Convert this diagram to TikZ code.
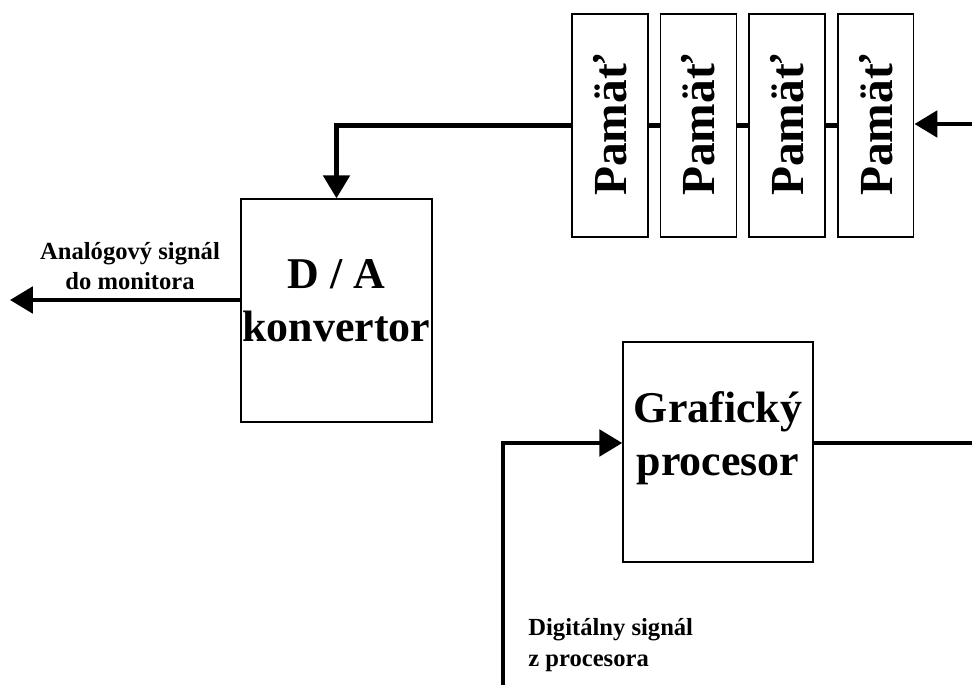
\documentclass[tikz,border=0pt]{standalone}
\usepackage{fontspec}
\setmainfont{Liberation Serif}
\usetikzlibrary{positioning,arrows.meta}
\tikzset{
  blok/.style={draw, line width=0.9pt, minimum width=3.82cm, minimum height=4.46cm, inner xsep=1pt, align=center, font=\bfseries\fontsize{25}{30}\selectfont},
  pamat/.style={draw, line width=0.9pt, minimum width=1.52cm, minimum height=4.46cm, inner sep=0pt, font=\bfseries\fontsize{27}{30}\selectfont},
  popis/.style={inner sep=0pt, font=\bfseries\fontsize{14}{17.5}\selectfont},
  vodic/.style={line width=2.3pt},
  sipka/.style={vodic, -{Triangle[length=13pt,width=15pt]}},
}
\begin{document}
\begin{tikzpicture}[x=0.02cm, y=-0.02cm]
    \useasboundingbox (0,0) rectangle (972,685);
    \node[pamat] (p1) at (610,125.5) {\rotatebox{90}{Pamäť}};
    \node[pamat, right=0.22cm of p1] (p2) {\rotatebox{90}{Pamäť}};
    \node[pamat, right=0.22cm of p2] (p3) {\rotatebox{90}{Pamäť}};
    \node[pamat, right=0.22cm of p3] (p4) {\rotatebox{90}{Pamäť}};
    \node[blok, text depth=0.4cm] (da) at (336.5,310.5) {D / A\\konvertor};
    \node[blok, minimum width=3.8cm, minimum height=4.4cm, text depth=0.75cm] (gp) at (718,452) {Grafický\\procesor};
    \node[popis, align=center] (analog) at (130,266) {Analógový signál\\do monitora};
    \node[popis, align=left, anchor=north west] (digital) at (528,618) {Digitálny signál\\z procesora};
    \coordinate (vstup) at (972,124);
    \coordinate (monitor) at (10,300);
    \coordinate (procesor) at (503,685);
    \coordinate (vystup) at (972,443);
    \draw[sipka] (vstup) -- (vstup -| p4.east);
    \draw[vodic] (p4.west) -- (p3.east) (p3.west) -- (p2.east) (p2.west) -- (p1.east);
    \draw[sipka] (p1.west) -| (da.north);
    \draw[sipka] (da.west |- monitor) -- (monitor);
    \draw[sipka] (procesor) |- (gp.west |- vystup);
    \draw[vodic] (gp.east |- vystup) -- (vystup);
\end{tikzpicture}
\end{document}
